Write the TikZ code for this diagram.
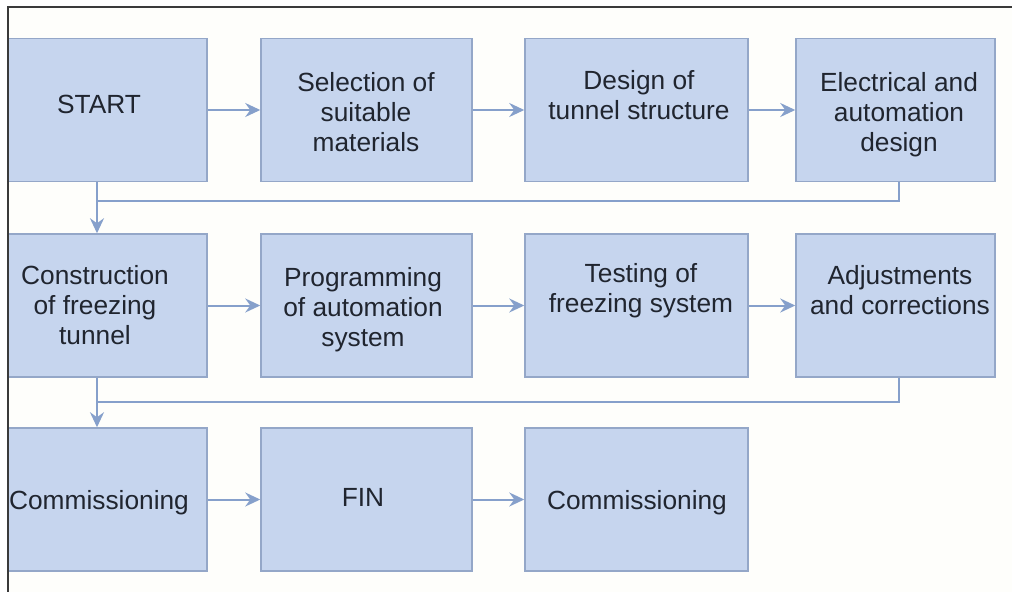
\documentclass[tikz,border=0pt]{standalone}
\usepackage{fontspec}
\setmainfont{Liberation Sans}
\usetikzlibrary{arrows.meta}

\definecolor{boxfill}{HTML}{C6D5EE}
\definecolor{boxline}{HTML}{94A7C8}
\definecolor{flowc}{HTML}{86A0CB}
\definecolor{ink}{HTML}{20252F}
\definecolor{framec}{HTML}{3A3A3A}
\definecolor{paper}{HTML}{FEFEFB}

\begin{document}
\begin{tikzpicture}[x=1pt,y=-1pt,
  stepbox/.style={draw=boxline, line width=1.5pt, fill=boxfill, inner sep=0pt, minimum height=143pt},
  boxtext/.style={font=\fontsize{26.3}{30}\selectfont, text=ink, align=center, inner sep=0pt, anchor=north},
  plainline/.style={draw=flowc, line width=2pt},
  arrowline/.style={plainline, -{Stealth[length=15pt,width=14pt,inset=5pt]}}
]
\useasboundingbox[fill=white] (0,0) rectangle (1012,592);
\fill[paper] (8,7) rectangle (1012,592);

% row 1
\node[stepbox, minimum width=199pt] (start)  at (107.5,110) {};
\node[stepbox, minimum width=211pt] (select) at (366.5,110) {};
\node[stepbox, minimum width=223pt] (design) at (636.5,110) {};
\node[stepbox, minimum width=199pt] (elec)   at (895.5,110) {};
% row 2
\node[stepbox, minimum width=199pt] (constr) at (107.5,305.5) {};
\node[stepbox, minimum width=211pt] (prog)   at (366.5,305.5) {};
\node[stepbox, minimum width=223pt] (test)   at (636.5,305.5) {};
\node[stepbox, minimum width=199pt] (adjust) at (895.5,305.5) {};
% row 3
\node[stepbox, minimum width=199pt] (comA)   at (107.5,499.5) {};
\node[stepbox, minimum width=211pt] (fin)    at (366.5,499.5) {};
\node[stepbox, minimum width=223pt] (comB)   at (636.5,499.5) {};

% box texts
\node[boxtext] (tstart)  at (99,95)  {START};
\node[boxtext] (tselect) at (366,72) {Selection of\\suitable\\materials};
\node[boxtext] (tdesign) at (639,70) {Design of\\tunnel structure};
\node[boxtext] (telec)   at (899,72) {Electrical and\\automation\\design};
\node[boxtext] (tconstr) at (95,265) {Construction\\of freezing\\tunnel};
\node[boxtext] (tprog)   at (363,267) {Programming\\of automation\\system};
\node[boxtext] (ttest)   at (641,263) {Testing of\\freezing system};
\node[boxtext] (tadjust) at (900,265) {Adjustments\\and corrections};
\node[boxtext] (tcomA)   at (99,490) {Commissioning};
\node[boxtext] (tfin)    at (363,488) {FIN};
\node[boxtext] (tcomB)   at (637,490) {Commissioning};

% turning points of the row returns
\coordinate (turnA) at (97,201);
\coordinate (riseA) at (899,201);
\coordinate (turnB) at (97,402);
\coordinate (riseB) at (899,402);

% horizontal flow
\draw[arrowline] (start.east)  -- (select.west);
\draw[arrowline] (select.east) -- (design.west);
\draw[arrowline] (design.east) -- (elec.west);
\draw[arrowline] (constr.east) -- (prog.west);
\draw[arrowline] (prog.east)   -- (test.west);
\draw[arrowline] (test.east)   -- (adjust.west);
\draw[arrowline] (comA.east)   -- (fin.west);
\draw[arrowline] (fin.east)    -- (comB.west);

% row returns
\draw[plainline] (elec.south -| riseA) -- (riseA) -- (turnA);
\draw[arrowline] (start.south -| turnA) -- (constr.north -| turnA);
\draw[plainline] (adjust.south -| riseB) -- (riseB) -- (turnB);
\draw[arrowline] (constr.south -| turnB) -- (comA.north -| turnB);

% frame
\draw[framec, line width=2pt] (1012,7) -- (8,7) -- (8,592);
\end{tikzpicture}
\end{document}
